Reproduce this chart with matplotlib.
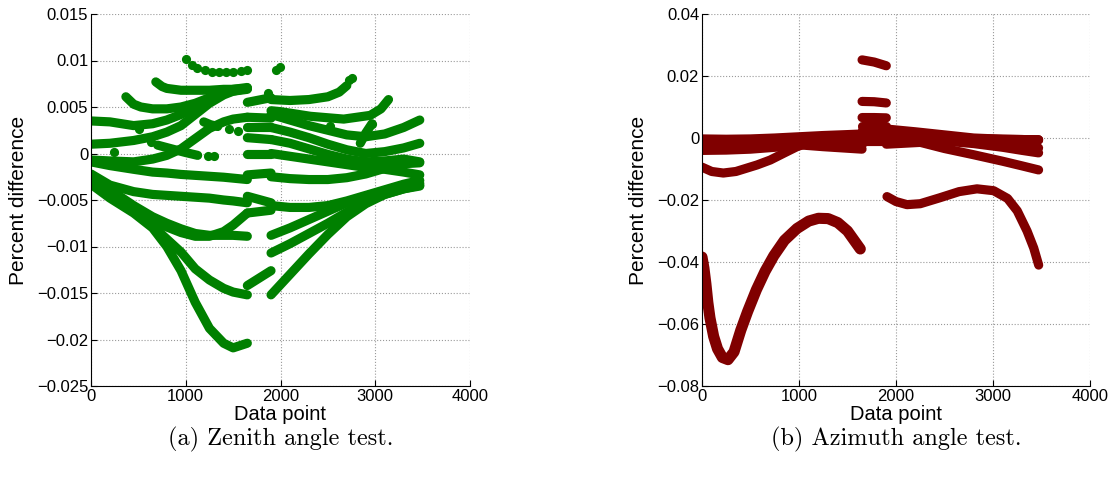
import matplotlib
matplotlib.use("Agg")
import matplotlib.pyplot as plt

plt.rcParams['font.family'] = ['Liberation Sans', 'DejaVu Sans']

green = "#008000"
dred = "#800000"

# ---------------- zenith test (left) ----------------
# segment a: data points 0..1650
zen_xa = [0, 200, 450, 650, 800, 950, 1100, 1250, 1400, 1500, 1650]
zen_a1 = [0.0035, 0.0034, 0.0030, 0.0032, 0.0036, 0.0042, 0.0050, 0.0059, 0.0066, 0.0069, 0.0071]
zen_a2 = [0.0010, 0.0011, 0.0014, 0.0018, 0.0023, 0.0030, 0.0042, 0.0054, 0.0063, 0.0067, 0.0070]
zen_a3 = [-0.0007, -0.0008, -0.0009, -0.0006, -0.0002, 0.0005, 0.0016, 0.0027, 0.0034, 0.0037, 0.0039]
zen_a4 = [-0.0009, -0.0013, -0.0017, -0.0020, -0.0021, -0.00225, -0.00235, -0.00245, -0.00255, -0.00265, -0.0028]
zen_a5 = [-0.0022, -0.0034, -0.0041, -0.0044, -0.0045, -0.0046, -0.0047, -0.0048, -0.0050, -0.0051, -0.0053]
zen_a6 = [-0.0026, -0.0039, -0.0056, -0.0068, -0.0075, -0.0081, -0.0086, -0.0088, -0.0088, -0.0088, -0.0089]
zen_a7 = [-0.0029, -0.0044, -0.0060, -0.0072, -0.0079, -0.0085, -0.0089, -0.0089, -0.0084, -0.0077, -0.0064]
zen_a8 = [-0.0031, -0.0045, -0.0062, -0.0078, -0.0092, -0.0106, -0.0124, -0.0136, -0.0145, -0.0149, -0.0152]
zen_a9 = [-0.0033, -0.0048, -0.0064, -0.0080, -0.0100, -0.0126, -0.0160, -0.0188, -0.0204, -0.0209, -0.0204]

zen_a10_x = [368, 450, 526, 650, 800, 950, 1100, 1250, 1400, 1500, 1650]
zen_a10_y = [0.0061, 0.0053, 0.0050, 0.0048, 0.0048, 0.0050, 0.0054, 0.0060, 0.0065, 0.0067, 0.0069]
zen_a11_x = [684, 750, 800, 950, 1100, 1250, 1400, 1500, 1650]
zen_a11_y = [0.0077, 0.0072, 0.0070, 0.0068, 0.0068, 0.0068, 0.0069, 0.0069, 0.0070]
zen_a12_x = [703, 850, 1000, 1126]
zen_a12_y = [0.0009, 0.0005, 0.0001, -0.0002]
zen_a13_x = [1190, 1260, 1337]
zen_a13_y = [0.0034, 0.0031, 0.0029]

# sparse dots
zen_dot_x = [1000, 1070, 1120, 1200, 1280, 1350, 1420, 1500, 1580, 1650,
             240, 507, 632, 1232, 1295, 1453, 1547, 1870, 1950, 1990, 2725, 2750, 2526, 2965]
zen_dot_y = [0.0102, 0.0095, 0.0092, 0.0090, 0.0088, 0.0088, 0.0088, 0.0088, 0.0089, 0.0090,
             0.0002, 0.0026, 0.0012, -0.0003, -0.0003, 0.0026, 0.0024, 0.0065, 0.0090, 0.0093, 0.0079, 0.0081, 0.0030, 0.0032]

# segment b: data points 1650..1900
zen_xb = [1650, 1900]
zen_b = [[0.0055, 0.0060], [0.0039, 0.0038], [0.0028, 0.0028], [0.0017, 0.0015],
         [0.0000, 0.0000], [-0.0023, -0.0021], [-0.0046, -0.0053], [-0.0064, -0.0061],
         [-0.0142, -0.0126]]

# segment c: data points 1900..3470
zen_xc = [1900, 2100, 2300, 2500, 2700, 2900, 3100, 3300, 3470]
zen_c3 = [0.0042, 0.0036, 0.0030, 0.0025, 0.0020, 0.0018, 0.0021, 0.0028, 0.0036]
zen_c4 = [0.0028, 0.0023, 0.0017, 0.0010, 0.0004, 0.0000, 0.0002, 0.0006, 0.0011]
zen_c5 = [0.0015, 0.0011, 0.0005, -0.0001, -0.0006, -0.0009, -0.0008, -0.0006, -0.0009]
zen_c6 = [0.0000, -0.0003, -0.0006, -0.0009, -0.0012, -0.0015, -0.0017, -0.0020, -0.0023]
zen_c7 = [-0.0025, -0.0027, -0.0028, -0.0028, -0.0026, -0.0022, -0.0016, -0.0011, -0.0010]
zen_c8 = [-0.0056, -0.0058, -0.0058, -0.0056, -0.0051, -0.0045, -0.0039, -0.0033, -0.0029]
zen_c9 = [-0.0088, -0.0080, -0.0071, -0.0062, -0.0053, -0.0046, -0.0040, -0.0035, -0.0032]
zen_c10 = [-0.0107, -0.0097, -0.0086, -0.0075, -0.0063, -0.0052, -0.0044, -0.0038, -0.0034]
zen_c11 = [-0.0152, -0.0130, -0.0108, -0.0087, -0.0068, -0.0054, -0.0044, -0.0038, -0.0035]
zen_c1_x = [1900, 2100, 2300, 2500, 2620, 2700]
zen_c1_y = [0.0058, 0.0057, 0.0058, 0.0061, 0.0066, 0.0073]
zen_c2_x = [1900, 2000, 2316, 2667, 2947, 3060, 3140]
zen_c2_y = [0.0046, 0.0045, 0.0040, 0.0037, 0.0041, 0.0048, 0.0058]
zen_c12_x = [2842, 2900, 2965]
zen_c12_y = [0.0011, 0.0022, 0.0032]

# ---------------- azimuth test (right) ----------------
az_dip_x = [0, 20, 40, 60, 82, 120, 160, 210, 268, 330, 400, 470, 560, 650, 740,
            850, 979, 1100, 1200, 1300, 1400, 1500, 1632]
az_dip_y = [-0.0384, -0.042, -0.047, -0.053, -0.058, -0.064, -0.068, -0.0708, -0.0715, -0.069,
            -0.062, -0.056, -0.049, -0.043, -0.038, -0.033, -0.0292, -0.0268, -0.0259, -0.0260,
            -0.0273, -0.0300, -0.0358]
az_low_x = [0, 100, 220, 350, 567, 704, 850, 979, 1100]
az_low_y = [-0.0094, -0.0108, -0.0113, -0.0108, -0.0087, -0.0071, -0.0048, -0.0028, -0.0015]

az_xa = [0, 250, 500, 750, 1000, 1250, 1500, 1650]
az_a = [[-0.0003, -0.0004, -0.0003, 0.0000, 0.0004, 0.0008, 0.0011, 0.0013],
        [-0.0015, -0.0013, -0.0010, -0.0006, -0.0002, 0.0000, 0.0002, 0.0003],
        [-0.0028, -0.0026, -0.0022, -0.0016, -0.0010, -0.0014, -0.0020, -0.0024],
        [-0.0040, -0.0039, -0.0036, -0.0030, -0.0022, -0.0028, -0.0033, -0.0036]]

az_xb = [1650, 1775, 1900]
az_b = [[0.0252, 0.0245, 0.0233], [0.0118, 0.0117, 0.0113], [0.0066, 0.0066, 0.0065],
        [0.0039, 0.0039, 0.0039], [0.0025, 0.0025, 0.0025], [0.0012, 0.0012, 0.0012],
        [-0.0001, -0.0001, -0.0001], [-0.0010, -0.0010, -0.0010]]

az_xc = [1900, 2200, 2500, 2800, 3100, 3300, 3470]
az_c = [[0.0029, 0.0020, 0.0010, 0.0000, -0.0004, -0.0005, -0.0006],
        [0.0015, 0.0009, 0.0003, -0.0002, -0.0004, -0.0005, -0.0006],
        [0.0000, -0.0003, -0.0005, -0.0006, -0.0005, -0.0005, -0.0006],
        [-0.0012, -0.0009, -0.0005, -0.0009, -0.0018, -0.0026, -0.0032],
        [-0.0020, -0.0015, -0.0010, -0.0018, -0.0030, -0.0040, -0.0048],
        [0.0005, -0.0010, -0.0034, -0.0054, -0.0075, -0.0090, -0.0103]]
az_c2_x = [1907, 2000, 2113, 2250, 2450, 2650, 2835, 3007, 3150, 3250, 3351, 3420, 3471]
az_c2_y = [-0.0189, -0.0205, -0.0215, -0.0212, -0.0193, -0.0173, -0.0164, -0.0170,
           -0.0195, -0.0235, -0.0300, -0.0355, -0.0410]

x_ticks = [0, 1000, 2000, 3000, 4000]
x_labels = ["0", "1000", "2000", "3000", "4000"]
zen_ticks = [-0.025, -0.02, -0.015, -0.01, -0.005, 0, 0.005, 0.01, 0.015]
zen_labels = ["\u22120.025", "\u22120.02", "\u22120.015", "\u22120.01", "\u22120.005", "0", "0.005", "0.01", "0.015"]
az_ticks = [-0.08, -0.06, -0.04, -0.02, 0, 0.02, 0.04]
az_labels = ["\u22120.08", "\u22120.06", "\u22120.04", "\u22120.02", "0", "0.02", "0.04"]

fig = plt.figure(figsize=(11.16, 4.84), dpi=100)
ax1 = fig.add_axes([91 / 1116, 1 - 386 / 484, 379 / 1116, 372 / 484])
ax2 = fig.add_axes([702 / 1116, 1 - 386 / 484, 388 / 1116, 372 / 484])

LW = 6.6
kw = dict(solid_capstyle="round", solid_joinstyle="round")


def curve(ax, x, y, c, lw=LW):
    ax.plot(x, y, "-", color=c, lw=lw, **kw)


# left
for y in [zen_a1, zen_a2, zen_a3, zen_a4, zen_a5, zen_a6, zen_a7, zen_a8, zen_a9]:
    curve(ax1, zen_xa, y, green)
curve(ax1, zen_a10_x, zen_a10_y, green)
curve(ax1, zen_a11_x, zen_a11_y, green)
curve(ax1, zen_a12_x, zen_a12_y, green)
curve(ax1, zen_a13_x, zen_a13_y, green)
for y in zen_b:
    curve(ax1, zen_xb, y, green)
for y in [zen_c3, zen_c4, zen_c5, zen_c6, zen_c7, zen_c8, zen_c9, zen_c10, zen_c11]:
    curve(ax1, zen_xc, y, green)
curve(ax1, zen_c1_x, zen_c1_y, green)
curve(ax1, zen_c2_x, zen_c2_y, green)
curve(ax1, zen_c12_x, zen_c12_y, green)
ax1.plot(zen_dot_x, zen_dot_y, "o", color=green, ms=6.6, mew=0)

# right
curve(ax2, az_dip_x, az_dip_y, dred, lw=8)
curve(ax2, az_low_x, az_low_y, dred)
for y in az_a:
    curve(ax2, az_xa, y, dred)
for y in az_b:
    curve(ax2, az_xb, y, dred)
for y in az_c:
    curve(ax2, az_xc, y, dred)
curve(ax2, az_c2_x, az_c2_y, dred)

for ax, ticks, labels, lim in [(ax1, zen_ticks, zen_labels, (-0.025, 0.015)),
                               (ax2, az_ticks, az_labels, (-0.08, 0.04))]:
    ax.set_xlim(0, 4000)
    ax.set_ylim(*lim)
    ax.set_xticks(x_ticks)
    ax.set_xticklabels(x_labels)
    ax.set_yticks(ticks)
    ax.set_yticklabels(labels)
    ax.grid(True, linestyle=":", color="#9a9a9a", linewidth=0.8)
    ax.set_axisbelow(True)
    ax.spines["top"].set_visible(False)
    ax.spines["right"].set_visible(False)
    ax.tick_params(direction="in", length=4, width=0.8, labelsize=12, pad=2,
                   top=False, right=False)
    ax.set_xlabel("Data point", fontsize=14.5)
    ax.xaxis.set_label_coords(0.5, -0.05)
    ax.set_ylabel("Percent difference", fontsize=15)

ax1.yaxis.set_label_coords(-0.166, 0.5)
ax2.yaxis.set_label_coords(-0.139, 0.5)

fig.text(281 / 1116, 1 - 439 / 484, "(a) Zenith angle test.", family="cmr10",
         fontsize=17.5, ha="center", va="center")
fig.text(896 / 1116, 1 - 439 / 484, "(b) Azimuth angle test.", family="cmr10",
         fontsize=17.5, ha="center", va="center")

fig.savefig("out.png", dpi=100)
